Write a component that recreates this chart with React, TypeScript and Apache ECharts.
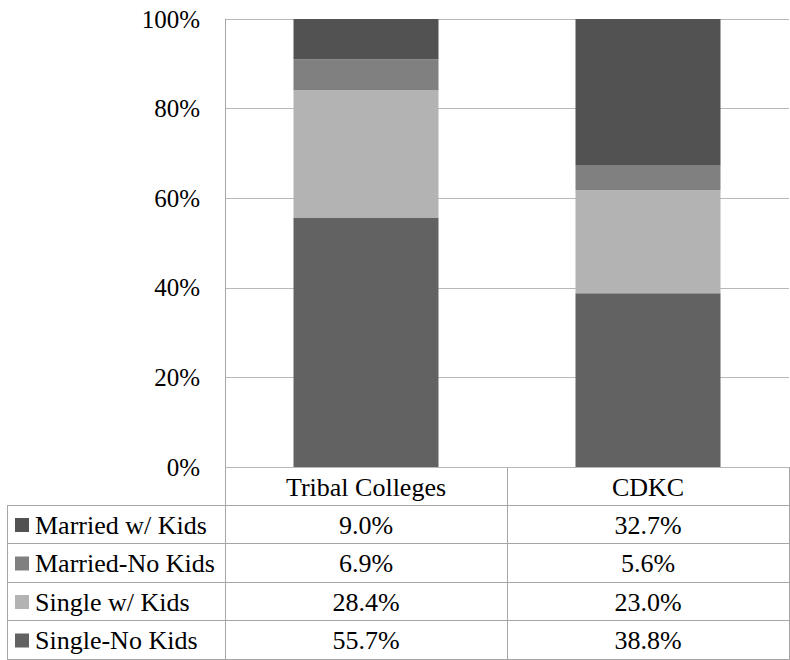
import React, { useEffect, useRef } from "react";
import * as echarts from "echarts";

const categories = ["Tribal Colleges", "CDKC"];
const seriesNames = ["Married w/ Kids", "Married-No Kids", "Single w/ Kids", "Single-No Kids"];
const marriedKids = [9.0, 32.7];
const marriedNoKids = [6.9, 5.6];
const singleKids = [28.4, 23.0];
const singleNoKids = [55.7, 38.8];
const yTicks = [0, 20, 40, 60, 80, 100];

const colors: Record<string, string> = {
  "Married w/ Kids": "#525252",
  "Married-No Kids": "#808080",
  "Single w/ Kids": "#b3b3b3",
  "Single-No Kids": "#626262",
};

const FONT = "Times New Roman, Liberation Serif, DejaVu Serif, serif";

export default function App() {
  const ref = useRef<HTMLDivElement>(null);
  useEffect(() => {
    if (!ref.current) return;
    const chart = echarts.init(ref.current, null, { renderer: "svg" });
    const valuesByName: Record<string, number[]> = {
      "Married w/ Kids": marriedKids,
      "Married-No Kids": marriedNoKids,
      "Single w/ Kids": singleKids,
      "Single-No Kids": singleNoKids,
    };
    // layout constants
    const left = 225, right = 789, top = 19, bottom = 467;
    const tableLeft = 7;
    const rowLines = [467, 505, 543, 582, 620, 659];
    const colMid = 507;
    const lineColor = "#a6a6a6";
    const graphics: any[] = [];
    const hline = (x1: number, x2: number, y: number) =>
      graphics.push({ type: "line", shape: { x1, y1: y + 0.5, x2, y2: y + 0.5 }, style: { stroke: lineColor, lineWidth: 1 }, silent: true });
    const vline = (x: number, y1: number, y2: number) =>
      graphics.push({ type: "line", shape: { x1: x + 0.5, y1, x2: x + 0.5, y2 }, style: { stroke: lineColor, lineWidth: 1 }, silent: true });
    hline(left, right + 1, rowLines[0]);
    for (let i = 1; i < rowLines.length; i++) hline(tableLeft, right + 1, rowLines[i]);
    vline(tableLeft, rowLines[1], rowLines[5] + 1);
    vline(left, rowLines[0], rowLines[5] + 1);
    vline(colMid, rowLines[0], rowLines[5] + 1);
    vline(right, rowLines[0], rowLines[5] + 1);
    const colCenters = [(left + colMid) / 2, (colMid + right) / 2];
    const txt = (x: number, y: number, text: string, align: string) => ({
      type: "text",
      x,
      y,
      style: { text, fontSize: 26, fontFamily: FONT, fill: "#000", align, verticalAlign: "middle" },
    });
    categories.forEach((c, i) => {
      graphics.push(txt(colCenters[i], (rowLines[0] + rowLines[1]) / 2 + 1, c, "center"));
    });
    seriesNames.forEach((name, r) => {
      const yMid = (rowLines[r + 1] + rowLines[r + 2]) / 2 + 1;
      graphics.push({ type: "rect", shape: { x: 15, y: yMid - 7, width: 14, height: 14 }, style: { fill: colors[name] } });
      graphics.push(txt(35, yMid, name, "left"));
      valuesByName[name].forEach((v, i) => {
        graphics.push(txt(colCenters[i], yMid, v.toFixed(1) + "%", "center"));
      });
    });

    const stackOrder = ["Single-No Kids", "Single w/ Kids", "Married-No Kids", "Married w/ Kids"];
    chart.setOption({
      animation: false,
      textStyle: { fontFamily: FONT },
      grid: { left, top, width: right - left, height: bottom - top, containLabel: false },
      xAxis: {
        type: "category",
        data: categories,
        axisLine: { show: false },
        axisTick: { show: false },
        axisLabel: { show: false },
      },
      yAxis: {
        type: "value",
        min: yTicks[0],
        max: yTicks[yTicks.length - 1],
        interval: 20,
        axisLine: { show: true, lineStyle: { color: lineColor } },
        axisTick: { show: false },
        axisLabel: { formatter: "{value}%", color: "#000", fontSize: 25, fontFamily: FONT, margin: 25 },
        splitLine: { lineStyle: { color: "#b8b8b8" } },
      },
      series: stackOrder.map((name) => ({
        name,
        type: "bar",
        stack: "total",
        barWidth: 145,
        data: valuesByName[name],
        itemStyle: { color: colors[name] },
      })),
      graphic: graphics,
    });
    return () => chart.dispose();
  }, []);
  return <div ref={ref} style={{ position: "absolute", left: 0, top: 0, width: 790, height: 660 }} />;
}
